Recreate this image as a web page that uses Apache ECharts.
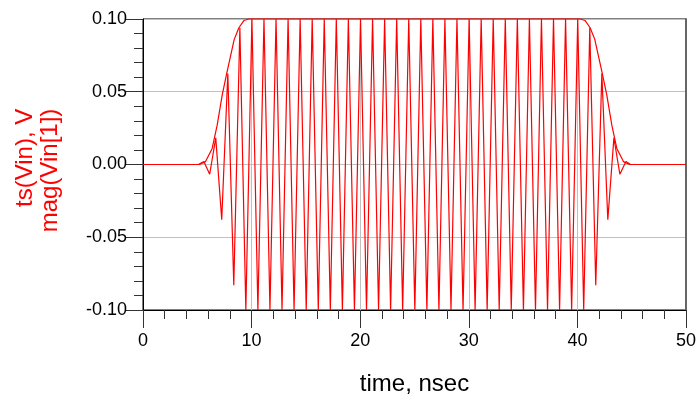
<!DOCTYPE html>
<html>
<head>
<meta charset="utf-8">
<script src="https://cdn.jsdelivr.net/npm/echarts@6/dist/echarts.min.js"></script>
<style>
  html, body { margin: 0; padding: 0; background: #fff; }
  #chart { width: 698px; height: 397px; }
</style>
</head>
<body>
<div id="chart"></div>
<script>
// ts(Vin): carrier extremes (time in nsec, volts)
const carrierTime = [
  0, 5.1, 5.6, 6.14, 6.70, 7.25, 7.81, 8.36, 8.92,
  9.47, 10.03, 10.58, 11.14, 11.69, 12.25, 12.80, 13.36, 13.91, 14.47,
  15.03, 15.58, 16.14, 16.69, 17.25, 17.80, 18.36, 18.91, 19.47, 20.03,
  20.58, 21.14, 21.69, 22.25, 22.80, 23.36, 23.91, 24.47, 25.03, 25.58,
  26.14, 26.69, 27.25, 27.80, 28.36, 28.91, 29.47, 30.03, 30.58, 31.14,
  31.69, 32.25, 32.80, 33.36, 33.91, 34.47, 35.03, 35.58, 36.14, 36.69,
  37.25, 37.80, 38.36, 38.91, 39.47, 40.03, 40.58,
  41.14, 41.69, 42.25, 42.80, 43.36, 43.91, 44.47, 44.9, 50
];
const carrierVolts = [
  0, 0, 0.002, -0.0067, 0.0183, -0.038, 0.0625, -0.083, 0.094,
  -0.1, 0.1, -0.1, 0.1, -0.1, 0.1, -0.1, 0.1, -0.1, 0.1,
  -0.1, 0.1, -0.1, 0.1, -0.1, 0.1, -0.1, 0.1, -0.1, 0.1,
  -0.1, 0.1, -0.1, 0.1, -0.1, 0.1, -0.1, 0.1, -0.1, 0.1,
  -0.1, 0.1, -0.1, 0.1, -0.1, 0.1, -0.1, 0.1, -0.1, 0.1,
  -0.1, 0.1, -0.1, 0.1, -0.1, 0.1, -0.1, 0.1, -0.1, 0.1,
  -0.1, 0.1, -0.1, 0.1, -0.1, 0.1, -0.1,
  0.094, -0.083, 0.0625, -0.038, 0.0183, -0.0067, 0.002, 0, 0
];

// mag(Vin[1]): envelope
const envTime = [0, 5.2, 5.76, 6.37, 6.83, 7.3, 7.75, 8.4, 8.83, 9.3, 9.75,
  40.25, 40.7, 41.17, 41.6, 42.25, 42.7, 43.17, 43.63, 44.24, 44.8, 50];
const envVolts = [0, 0, 0.002, 0.011, 0.027, 0.048, 0.064, 0.086, 0.094, 0.099, 0.1,
  0.1, 0.099, 0.094, 0.086, 0.064, 0.048, 0.027, 0.011, 0.002, 0, 0];

const font = "Arial, 'Liberation Sans', sans-serif";

const chart = echarts.init(document.getElementById("chart"));

const option = {
  animation: false,
  grid: {
    left: 143, right: 12, top: 19, bottom: 87,
    outerBoundsMode: "none",
    show: true, borderColor: "#000", borderWidth: 1
  },
  xAxis: {
    type: "value",
    min: 0, max: 50, interval: 10,
    name: "time, nsec",
    nameLocation: "middle",
    nameGap: 62,
    nameTextStyle: { fontSize: 24, color: "#000", fontFamily: font },
    axisLine: { onZero: false, lineStyle: { color: "#000", width: 1 } },
    axisTick: { show: true, length: 18, lineStyle: { color: "#333" } },
    minorTick: { show: true, splitNumber: 5, length: 9, lineStyle: { color: "#333" } },
    axisLabel: { fontSize: 18, color: "#000", fontFamily: font, margin: 22 },
    splitLine: { show: true, lineStyle: { color: "#c0c0c0", width: 1 } }
  },
  yAxis: [
    {
      type: "value",
      min: -0.1, max: 0.1, interval: 0.05,
      name: "{a|ts(Vin), V}\n{a|mag(Vin[1])}",
      nameLocation: "middle",
      nameRotate: 90,
      nameGap: 80,
      nameTextStyle: {
        padding: [0, 12, 0, 0],
        rich: {
          a: { fontSize: 24, color: "#ff0000", fontFamily: font, lineHeight: 25, align: "right" }
        }
      },
      axisLine: { show: true, onZero: false, lineStyle: { color: "#000", width: 1 } },
      axisTick: { show: true, length: 17, lineStyle: { color: "#333" } },
      minorTick: { show: true, splitNumber: 5, length: 9, lineStyle: { color: "#333" } },
      axisLabel: {
        fontSize: 18, color: "#000", fontFamily: font, margin: 16,
        formatter: (v) => v.toFixed(2)
      },
      splitLine: { show: true, lineStyle: { color: "#c0c0c0", width: 1 } }
    },
    {
      type: "value",
      position: "right",
      min: -0.1, max: 0.1, interval: 0.05,
      axisLine: { show: true, onZero: false, lineStyle: { color: "#666", width: 2 } },
      axisTick: { show: false },
      axisLabel: { show: false },
      splitLine: { show: false }
    }
  ],
  series: [
    {
      name: "ts(Vin)",
      type: "line",
      data: carrierTime.map((t, i) => [t, carrierVolts[i]]),
      showSymbol: false,
      clip: false,
      lineStyle: { color: "#ff0000", width: 1.2 },
      itemStyle: { color: "#ff0000" }
    },
    {
      name: "mag(Vin[1])",
      type: "line",
      data: envTime.map((t, i) => [t, envVolts[i]]),
      showSymbol: false,
      clip: false,
      lineStyle: { color: "#ff0000", width: 1.2 },
      itemStyle: { color: "#ff0000" }
    }
  ]
};

chart.setOption(option);
</script>
</body>
</html>
